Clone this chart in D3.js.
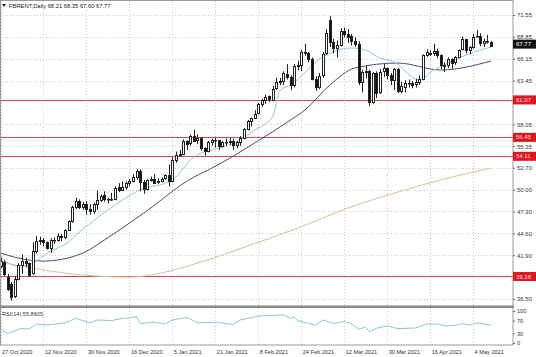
<!DOCTYPE html>
<html><head><meta charset="utf-8">
<script src="https://cdn.jsdelivr.net/npm/d3@7"></script>
<style>body{margin:0;background:#fff}svg{display:block}text{font-family:"Liberation Sans",Arial,sans-serif}</style>
</head><body><svg id="c" width="536" height="357"></svg>
<script>
const symbol = "FBRENT,Daily";
const opens = [40.6,41.1,39.2,38.4,36.9,39.0,40.7,41.2,40.9,39.7,42.4,43.6,43.8,43.5,42.8,43.8,43.8,44.3,44.2,45.0,46.1,47.9,48.6,47.8,48.2,47.6,47.4,48.2,48.7,49.3,48.8,48.8,48.9,50.3,50.0,50.3,50.8,51.1,51.5,52.3,50.9,50.1,51.2,51.3,50.9,51.1,51.4,51.8,51.1,53.6,54.3,54.4,56.0,55.7,56.6,56.1,56.4,55.1,54.8,55.9,56.1,56.1,55.4,55.9,55.9,56.0,55.5,55.9,56.4,57.5,58.5,58.8,59.4,60.6,61.1,61.5,61.1,62.5,63.3,63.4,64.3,63.9,62.9,65.2,65.4,67.0,66.9,66.1,63.7,62.7,64.1,66.8,70.9,68.2,67.5,67.9,69.6,69.2,68.9,68.4,68.0,63.3,64.5,64.6,60.8,64.4,62.0,64.6,65.0,64.1,63.5,64.9,62.2,62.7,63.2,63.2,63.0,63.3,63.7,66.6,66.9,66.8,67.1,66.6,65.3,65.4,66.1,65.7,66.4,67.3,68.6,67.2,67.6,68.9,69.0,68.1,68.3,68.21];
const highs = [41.6,41.3,39.6,38.6,39.3,40.9,42.0,41.6,41.0,43.5,44.3,44.2,44.0,43.6,44.0,44.1,44.6,44.5,45.1,46.2,48.0,49.0,48.8,48.5,48.6,48.2,48.4,49.9,49.4,49.8,49.0,49.6,50.4,50.8,51.0,51.0,51.3,51.9,52.5,52.5,51.2,51.3,51.6,51.9,51.4,51.5,51.9,53.1,54.0,54.7,54.9,56.2,56.1,56.8,57.4,56.8,56.5,55.2,56.0,56.3,56.4,56.1,56.0,56.3,56.4,56.3,56.0,56.6,57.6,58.6,58.9,59.8,60.7,61.2,61.7,61.6,62.8,63.8,63.8,64.6,65.5,64.1,65.5,65.9,67.2,68.0,67.0,66.3,64.0,64.4,67.0,69.8,71.4,68.6,68.4,69.9,70.0,69.8,69.2,68.8,68.3,64.8,65.3,64.8,64.5,64.6,64.9,65.5,65.1,64.4,65.0,65.0,63.3,63.5,63.6,63.4,63.7,64.1,66.7,67.3,67.2,68.0,67.4,66.7,65.7,66.3,66.2,66.5,67.3,68.9,68.6,67.7,69.2,69.7,69.3,68.6,69.1,68.35];
const lows = [40.3,39.3,37.5,36.3,36.6,38.8,39.6,40.4,39.2,39.5,42.1,43.2,43.0,42.6,42.2,43.3,43.6,43.6,43.9,44.9,45.9,47.6,47.6,47.5,46.9,46.9,47.0,47.5,48.5,48.5,48.3,48.6,48.7,49.7,49.8,50.0,50.4,50.9,51.2,49.8,49.5,49.9,51.0,50.7,50.7,50.9,51.2,50.4,50.9,53.3,54.1,54.3,54.9,55.4,55.9,55.6,54.8,54.2,54.6,55.4,55.2,54.9,55.2,55.4,55.5,54.9,55.1,55.4,56.2,57.3,57.8,58.7,59.3,60.2,60.6,60.8,60.9,62.3,62.9,62.9,63.6,62.3,62.6,64.7,64.6,66.5,65.7,63.5,62.2,62.4,63.8,66.6,67.6,66.8,66.3,67.7,68.8,68.1,67.8,67.6,62.9,62.0,63.7,60.3,60.6,61.3,61.8,63.9,63.6,62.9,62.3,61.9,61.9,62.0,62.6,62.5,62.6,62.9,63.5,66.4,66.5,66.5,66.2,64.9,64.5,65.0,64.9,65.4,66.2,67.2,66.8,66.7,67.4,68.8,67.7,67.6,68.0,67.60];
const closes = [41.2,39.6,37.7,36.8,39.0,40.7,41.2,40.9,39.5,42.4,43.6,43.8,43.5,42.8,43.8,43.75,44.3,44.2,45.0,46.1,47.9,48.6,47.8,48.2,47.6,47.4,48.25,48.7,49.25,48.8,48.84,48.86,50.25,49.97,50.29,50.76,51.08,51.5,52.26,50.91,50.08,51.2,51.29,50.86,51.09,51.34,51.8,51.09,53.6,54.3,54.38,55.99,55.66,56.58,56.06,56.42,55.1,54.75,55.9,56.08,56.1,55.41,55.88,55.91,56.0,55.53,55.88,56.35,57.46,58.46,58.84,59.34,60.56,61.09,61.47,61.14,62.43,63.3,63.35,64.34,63.93,62.91,65.24,65.37,67.04,66.88,66.13,63.69,62.7,64.07,66.74,69.36,68.24,67.52,67.9,69.63,69.22,68.88,68.39,68.0,63.28,64.53,64.62,60.79,64.41,61.95,64.57,64.98,64.14,63.54,64.86,62.15,62.74,63.16,63.2,62.95,63.28,63.67,66.58,66.94,66.77,67.05,66.57,65.32,65.4,66.11,65.65,66.42,67.27,68.56,67.25,67.56,68.88,68.96,68.09,68.28,68.32,67.77];

const dateTicks = ["27 Oct 2020","12 Nov 2020","30 Nov 2020","16 Dec 2020","5 Jan 2021","21 Jan 2021","8 Feb 2021","24 Feb 2021","12 Mar 2021","30 Mar 2021","16 Apr 2021","4 May 2021"];
const dateTickBars = [0,12,24,36,48,60,72,84,96,108,120,132];
const priceTicks = [36.50,41.90,44.60,47.30,50.00,52.70,55.35,58.05,63.45,66.15,68.85,71.55];
const levels = [61.07,56.45,54.11,39.28];

// moving averages: [bar, price]
const maFast = [[0,41.55],[5,40.56],[9,40.93],[13,42.17],[19,43.53],[22,44.76],[27,46.49],[39,49.95],[48,51.18],[54,54.02],[62,55.25],[67,56.12],[71,57.35],[76,58.96],[78,62.2],[81,62.9],[90,66.37],[98,67.48],[102,67.23],[106,66.24],[110,65.75],[115,63.9],[117,63.5],[121,64.76],[124,65.38],[128,66.24],[137,67.6]];
const maMid = [[0,42.17],[8,41.3],[12,41.18],[23,42.17],[29,43.77],[36,45.87],[40,47.1],[54,51.55],[58,52.41],[71,55.75],[81,58.59],[85,59.82],[92,62.91],[99,65.01],[111,65.62],[123,64.76],[137,65.87]];
const maSlow = [[0,41.06],[9,40.3],[18,39.7],[27,39.33],[36,39.2],[46,39.82],[55,40.93],[69,43.03],[83,45.25],[97,47.72],[111,49.7],[125,51.43],[137,52.66]];

const rsi = [[0,43],[2,30],[6,46],[8,43],[10,59],[13,56],[18,63],[21,77],[25,63],[27,72],[31,70],[33,75],[38,82],[39,61],[43,65],[46,59],[48,72],[52,80],[55,63],[60,65],[65,58],[67,72],[72,84],[79,88],[81,77],[82,82],[83,70],[88,56],[90,72],[93,61],[96,67],[98,61],[100,43],[102,49],[103,35],[105,46],[108,53],[111,45],[116,47],[119,59],[122,59],[124,53],[127,55],[129,61],[131,56],[133,63],[137,56]];
const rsiLast = 55.8605;
const rsiTicks = [100,70,30,0];

const svg = d3.select("#c");
const R = 513, mainTop = 1, mainBot = 305, rsiTop = 308, rsiBot = 345;
const n = closes.length;
const x = d3.scaleLinear().domain([0, n - 1]).range([0.5, 491]);
const y = d3.scaleLinear().domain([36.5, 71.55]).range([299, 15]);
const yr = d3.scaleLinear().domain([0, 100]).range([343, 311]);
const f2 = d3.format(".2f");
const grid = "#c9c9c9";

dateTickBars.forEach(b => {
  const gx = Math.round(x(b)) + 0.5;
  [[mainTop, mainBot], [rsiTop, rsiBot]].forEach(([a, c]) =>
    svg.append("line").attr("x1", gx).attr("x2", gx).attr("y1", a).attr("y2", c)
      .attr("stroke", grid).attr("stroke-dasharray", "1,2"));
});
priceTicks.forEach(p => {
  const gy = Math.round(y(p)) + 0.5;
  svg.append("line").attr("x1", 1).attr("x2", R).attr("y1", gy).attr("y2", gy)
    .attr("stroke", grid).attr("stroke-dasharray", "1,2");
});

levels.forEach(p => {
  const gy = Math.round(y(p)) + 0.5;
  svg.append("line").attr("x1", 1).attr("x2", R).attr("y1", gy).attr("y2", gy)
    .attr("stroke", "#c8504f").attr("stroke-width", 1);
});

const line = d3.line().x(d => x(d[0])).y(d => y(d[1])).curve(d3.curveMonotoneX);
svg.append("path").attr("d", line(maSlow)).attr("fill", "none").attr("stroke", "#d8c19c").attr("stroke-width", 1);
svg.append("path").attr("d", line(maMid)).attr("fill", "none").attr("stroke", "#4c4a7e").attr("stroke-width", 1);
svg.append("path").attr("d", line(maFast)).attr("fill", "none").attr("stroke", "#95c6d3").attr("stroke-width", 1);

const cg = svg.append("g");
for (let i = 0; i < n; i++) {
  const cx = Math.round(x(i));
  const o = opens[i], c = closes[i];
  cg.append("line").attr("x1", cx + 0.5).attr("x2", cx + 0.5)
    .attr("y1", y(highs[i])).attr("y2", y(lows[i])).attr("stroke", "#222");
  const top = Math.round(y(Math.max(o, c))), bot = Math.round(y(Math.min(o, c)));
  cg.append("rect").attr("x", cx - 0.5).attr("y", top + 0.5).attr("width", 2)
    .attr("height", Math.max(0.5, bot - top))
    .attr("fill", c >= o ? "#fff" : "#111").attr("stroke", "#222");
}

svg.append("rect").attr("x", 0.5).attr("y", 0.5).attr("width", R - 0.5).attr("height", rsiBot - 0.5)
  .attr("fill", "none").attr("stroke", "#9a9a9a");
svg.append("rect").attr("x", 0).attr("y", mainBot + 0.5).attr("width", R + 1).attr("height", 2.5).attr("fill", "#8a8a8a");

const ax = svg.append("g").attr("transform", `translate(${R},0)`)
  .call(d3.axisRight(y).tickValues(priceTicks).tickSize(2).tickPadding(2).tickFormat(f2));
ax.select(".domain").remove();
ax.selectAll("line").attr("stroke", "#666");
ax.selectAll("text").attr("font-size", 6).attr("fill", "#333").attr("font-family", "Liberation Sans, Arial, sans-serif");

levels.forEach(p => {
  const gy = y(p);
  svg.append("rect").attr("x", R).attr("y", gy - 4.5).attr("width", 536 - R).attr("height", 9).attr("fill", "#e2161d");
  svg.append("text").attr("x", R + 3).attr("y", gy).attr("dy", "0.35em").attr("font-size", 6)
    .attr("fill", "#fde").text(f2(p));
});
const lc = closes[n - 1];
svg.append("rect").attr("x", R).attr("y", y(lc) - 6).attr("width", 536 - R).attr("height", 9).attr("fill", "#111");
svg.append("text").attr("x", R + 3).attr("y", y(lc) - 1.5).attr("dy", "0.35em").attr("font-size", 6)
  .attr("fill", "#fff").text(f2(lc));

svg.append("path").attr("d", "M2,4 L6,4 L4,7 Z").attr("fill", "#222");
svg.append("text").attr("x", 9).attr("y", 7.5).attr("font-size", 5.8).attr("fill", "#222")
  .text(`${symbol}  ${f2(opens[n-1])} ${f2(highs[n-1])} ${f2(lows[n-1])} ${f2(closes[n-1])}`);

const rl = d3.line().x(d => x(d[0])).y(d => yr(d[1]));
svg.append("path").attr("d", rl(rsi)).attr("fill", "none").attr("stroke", "#8ec3d6").attr("stroke-width", 1);
svg.append("text").attr("x", 2).attr("y", 316).attr("font-size", 5.6).attr("fill", "#333")
  .text(`RSI(14) ${rsiLast.toFixed(4)}`);
const rax = svg.append("g").attr("transform", `translate(${R},0)`)
  .call(d3.axisRight(yr).tickValues(rsiTicks).tickSize(2).tickPadding(2).tickFormat(d3.format("d")));
rax.select(".domain").remove();
rax.selectAll("line").attr("stroke", "#666");
rax.selectAll("text").attr("font-size", 5.6).attr("fill", "#333").attr("font-family", "Liberation Sans, Arial, sans-serif");

dateTicks.forEach((t, k) => {
  svg.append("text").attr("x", x(dateTickBars[k]) + 1.5).attr("y", 354).attr("font-size", 5.6)
    .attr("fill", "#333").text(t);
});
</script></body></html>
